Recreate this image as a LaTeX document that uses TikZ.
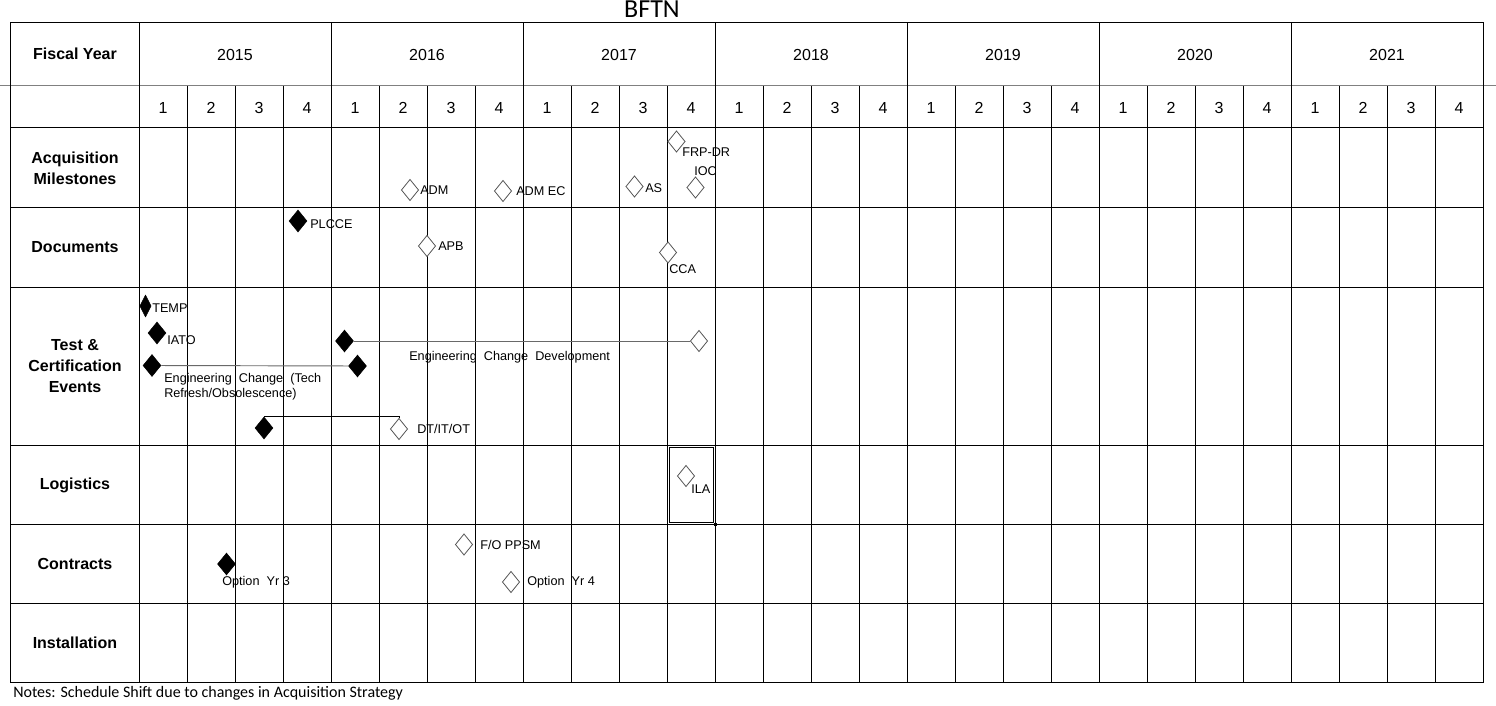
\documentclass[tikz,border=0pt]{standalone}
\usepackage{fontspec}
\setmainfont{Liberation Sans}
\newfontfamily\notefont{Carlito}
\usepackage{tikz}
\usetikzlibrary{shapes.geometric, positioning}
\definecolor{gridgray}{RGB}{128,128,128}
\definecolor{markgray}{RGB}{85,85,85}
\definecolor{linkgray}{RGB}{105,105,105}

\begin{document}
\begin{tikzpicture}[x=0.75pt, y=-0.75pt]
  \tikzstyle{rowhead} = [font=\fontsize{12}{15.75}\selectfont\bfseries, align=center]
  \tikzstyle{colhead} = [font=\fontsize{12}{14}\selectfont]
  \tikzstyle{done} = [diamond, fill=black, draw=black, inner sep=0pt, minimum width=13.5pt, minimum height=16.5pt]
  \tikzstyle{plan} = [diamond, fill=white, draw=markgray, line width=0.6pt, inner sep=0pt, minimum width=13pt, minimum height=16pt]
  \tikzstyle{tag} = [anchor=west, inner sep=0pt, font=\fontsize{9.5}{11.25}\selectfont, align=left]
  \tikzstyle{link} = [draw=linkgray, line width=0.7pt]
  \tikzstyle{rule} = [line width=0.75pt]

  \useasboundingbox (0,0) rectangle (1496,706);

  % Title
  \node [font=\notefont\fontsize{19.5}{22}\selectfont] (title) at (652,9) {BFTN};

  % Grid
  \draw[rule, gridgray] (0,86) -- (1496,86);
  \draw[rule] (10,23) rectangle (1483,682);
  \foreach \y in {128,208,287,445,524,603} \draw[rule] (10,\y) -- (1483,\y);
  \foreach \x in {139,331,...,1483} \draw[rule] (\x,23) -- (\x,682);
  \foreach \x in {187,235,...,1435} \draw[rule] (\x,86) -- (\x,682);

  % Header row: fiscal years and quarters
  \node [rowhead] (fy) at (75,54) {Fiscal Year};
  \foreach \yr [count=\i from 0] in {2015,...,2021}
    \node [colhead] (yr\yr) at (235+192*\i,55) {\yr};
  \foreach \i in {0,...,27} {
    \pgfmathtruncatemacro{\qq}{mod(\i,4)+1}
    \node [colhead] (q\i) at (163+48*\i,108) {\qq};
  }

  % Row titles
  \node [rowhead] (acq) at (75,168) {Acquisition\\Milestones};
  \node [rowhead] (doc) at (75,247) {Documents};
  \node [rowhead] (tce) at (75,366) {Test \&\\Certification\\Events};
  \node [rowhead] (logi) at (75,485) {Logistics};
  \node [rowhead] (cont) at (75,564) {Contracts};
  \node [rowhead] (inst) at (75,643) {Installation};

  % Acquisition Milestones
  \node [plan] (frpdr) at (676.5,141.5) {};
  \node [tag] at (682,152) {FRP-DR};
  \node [plan] (ioc) at (695.5,187.5) {};
  \node [tag] at (694,171) {IOC};
  \node [plan] (adm) at (410,190) {};
  \node [tag] at (420,190) {ADM};
  \node [plan] (admec) at (503,191) {};
  \node [tag] at (516,191) {ADM EC};
  \node [plan] (as) at (634.5,186.5) {};
  \node [tag] at (645,188) {AS};

  % Documents
  \node [done] (plcce) at (298,221) {};
  \node [tag] at (310,224) {PLCCE};
  \node [plan] (apb) at (427,246) {};
  \node [tag] at (438,246) {APB};
  \node [plan] (cca) at (668,252.5) {};
  \node [tag] at (669,269) {CCA};

  % Test & Certification Events
  \node [done, minimum width=8.5pt] (temp) at (145.5,306) {};
  \node [tag] at (152,308) {TEMP};
  \node [done] (iato) at (157,333) {};
  \node [tag] at (167,340) {IATO};
  \node [done] (ecdA) at (344.5,341) {};
  \node [plan] (ecdB) at (699,341) {};
  \draw[link] (ecdA) -- (ecdB);
  \node [tag] at (409,357.5) {Engineering\ \ Change\ \ Development};
  \node [done] (ectA) at (152,365.5) {};
  \node [done] (ectB) at (357.5,366) {};
  \draw[link] (ectA) -- (ectB);
  \node [tag] at (164,387) {Engineering\ \ Change\ \ (Tech\\Refresh/Obsolescence)};
  \node [done] (dtA) at (264,428) {};
  \node [plan] (dtB) at (399,429) {};
  \draw[link, draw=black] (dtA.north) -- (dtA.north -| dtB.north) -- (dtB.north);
  \node [tag] at (417,429) {DT/IT/OT};

  % Logistics
  \draw[line width=0.5pt] (669.5,447.5) rectangle (713.5,522.5);
  \fill (713.5,522.5) rectangle (716.5,525.5);
  \node [plan] (ila) at (686,476) {};
  \node [tag] at (691,489) {ILA};

  % Contracts
  \node [plan] (fopp) at (464,544.5) {};
  \node [tag] at (480,545) {F/O PPSM};
  \node [done] (opt3) at (226.5,564) {};
  \node [tag] at (222,582) {Option\ \ Yr 3};
  \node [plan] (opt4) at (511,582) {};
  \node [tag] at (527,582) {Option\ \ Yr 4};

  % Note
  \node [anchor=west, inner sep=0pt, font=\notefont\fontsize{12}{14}\selectfont] (note) at (13,693) {Notes: Schedule Shift due to changes in Acquisition Strategy};
\end{tikzpicture}
\end{document}
